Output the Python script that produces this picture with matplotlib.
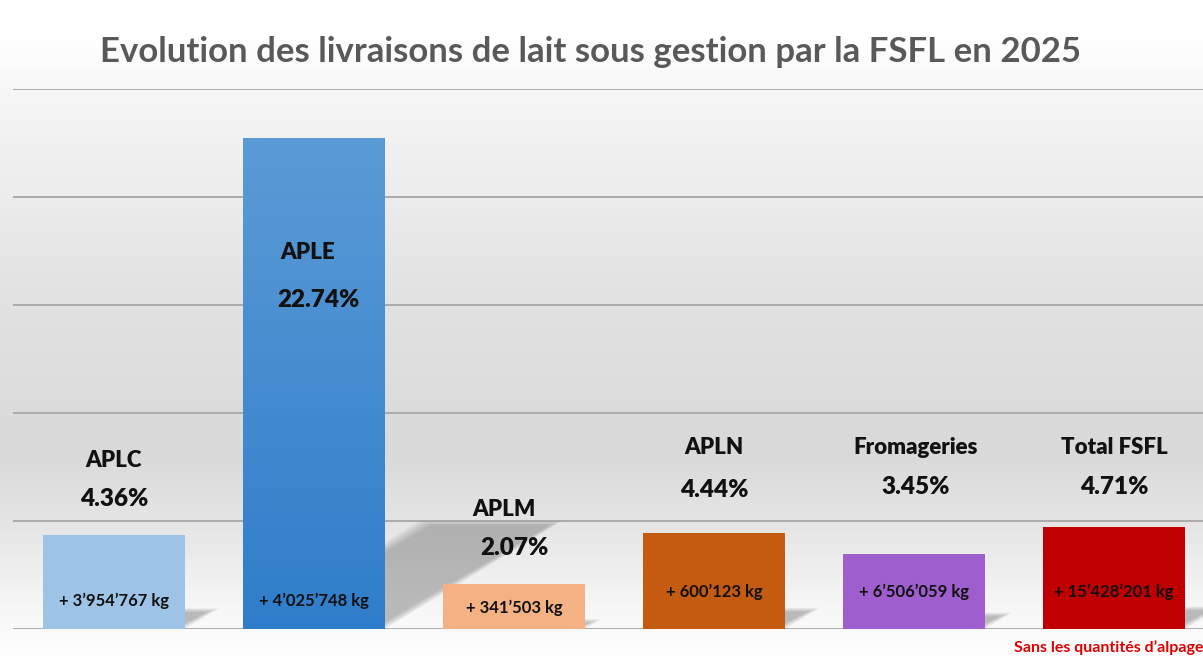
import numpy as np
import matplotlib
matplotlib.use("Agg")
import matplotlib.pyplot as plt
from matplotlib.patches import Polygon
from matplotlib.colors import LinearSegmentedColormap

plt.rcParams['font.family'] = ['Lato', 'DejaVu Sans']

# data
groups = ['APLC', 'APLE', 'APLM', 'APLN', 'Fromageries', 'Total FSFL']
growth = [4.36, 22.74, 2.07, 4.44, 3.45, 4.71]
pct_labels = ['4.36%', '22.74%', '2.07%', '4.44%', '3.45%', '4.71%']
kg_labels = ['+ 3\u2019954\u2019767 kg', '+ 4\u2019025\u2019748 kg', '+ 341\u2019503 kg',
             '+ 600\u2019123 kg', '+ 6\u2019506\u2019059 kg', '+ 15\u2019428\u2019201 kg']
colors = ['#9DC3E6', '#4A8ED2', '#F4B183', '#C55A11', '#9E5ECE', '#C00000']

# label layout (data coords)
name_y = [7.78, 17.45, 5.51, 8.38, 8.38, 8.38]
pct_y = [6.02, 15.23, 3.75, 6.44, 6.57, 6.57]
name_dx = [0.0, -0.03, -0.05, 0.0, 0.01, 0.0]
pct_dx = [0.0, 0.02, 0.0, 0.0, 0.01, 0.0]
kg_y = [1.3, 1.3, 0.97, 1.7, 1.7, 1.7]

fig = plt.figure(figsize=(12.03, 6.63), dpi=100)

# background gradient
bg = fig.add_axes([0, 0, 1, 1], zorder=-10)
stops = [(0.0, '#FFFFFF'), (0.06, '#FFFFFF'), (0.14, '#F6F6F6'), (0.45, '#E2E2E2'),
         (0.68, '#D9D9D9'), (0.80, '#E6E6E6'), (0.93, '#F8F8F8'), (1.0, '#FFFFFF')]
cmap_bg = LinearSegmentedColormap.from_list('bg', stops)
bg.imshow(np.linspace(0, 1, 256).reshape(-1, 1), aspect='auto', cmap=cmap_bg,
          extent=[0, 1, 0, 1], origin='upper')
bg.set_axis_off()

ax = fig.add_axes([13 / 1203, 1 - 629 / 663, 1190 / 1203, 540 / 663])
ax.patch.set_alpha(0)
ax.set_xlim(-0.505, 5.445)
ax.set_ylim(0, 25)
for s in ax.spines.values():
    s.set_visible(False)
ax.set_xticks([])
ax.set_yticks([])
for g in np.arange(0, 26, 5):
    ax.axhline(g, color='#A6A6A6', lw=1.3, zorder=0)

x = np.arange(len(groups))
width = 0.71
bars = ax.bar(x, growth, width=width, color=colors, zorder=3)

# shadows
for xi, h in zip(x, growth):
    x0, x1 = xi - width / 2, xi + width / 2
    dx, dy = 0.0389 * h, 0.22 * h
    for k in range(6):
        sh = 0.012 * k
        poly = Polygon([(x0 + sh, 0), (x1 - sh, 0), (x1 + dx - sh, dy - sh * 3),
                        (x0 + dx + sh, dy - sh * 3)],
                       closed=True, color='#707070', alpha=0.09, lw=0, zorder=2)
        ax.add_patch(poly)

# gradient on APLE bar
b = bars[1]
grad = LinearSegmentedColormap.from_list('aple', ['#5B9BD5', '#2F7DCA'])
im = ax.imshow(np.linspace(0, 1, 256).reshape(-1, 1), aspect='auto', cmap=grad,
               extent=[b.get_x(), b.get_x() + b.get_width(), 0, b.get_height()],
               origin='upper', zorder=3.5)
im.set_clip_path(b)
ax.set_xlim(-0.505, 5.445)
ax.set_ylim(0, 25)

for i in range(len(groups)):
    ax.text(x[i] + name_dx[i], name_y[i], groups[i], ha='center', va='center',
            fontsize=16, fontweight='heavy', color='#111111', zorder=5)
    ax.text(x[i] + pct_dx[i], pct_y[i], pct_labels[i], ha='center', va='center',
            fontsize=17.5, fontweight='heavy', color='#111111', zorder=5)
    ax.text(x[i], kg_y[i], kg_labels[i], ha='center', va='center',
            fontsize=12, fontweight='bold', color='#111111', zorder=5)

fig.text(591 / 1203, 1 - 52 / 663, 'Evolution des livraisons de lait sous gestion par la FSFL en 2025',
         ha='center', va='center', fontsize=25, fontweight='bold', color='#595959')
fig.text(1.0, 1 - 648 / 663, 'Sans les quantit\u00e9s d\u2019alpage', ha='right', va='center',
         fontsize=11.5, fontweight='bold', color='#E00000')

fig.savefig('out.png', dpi=100)
